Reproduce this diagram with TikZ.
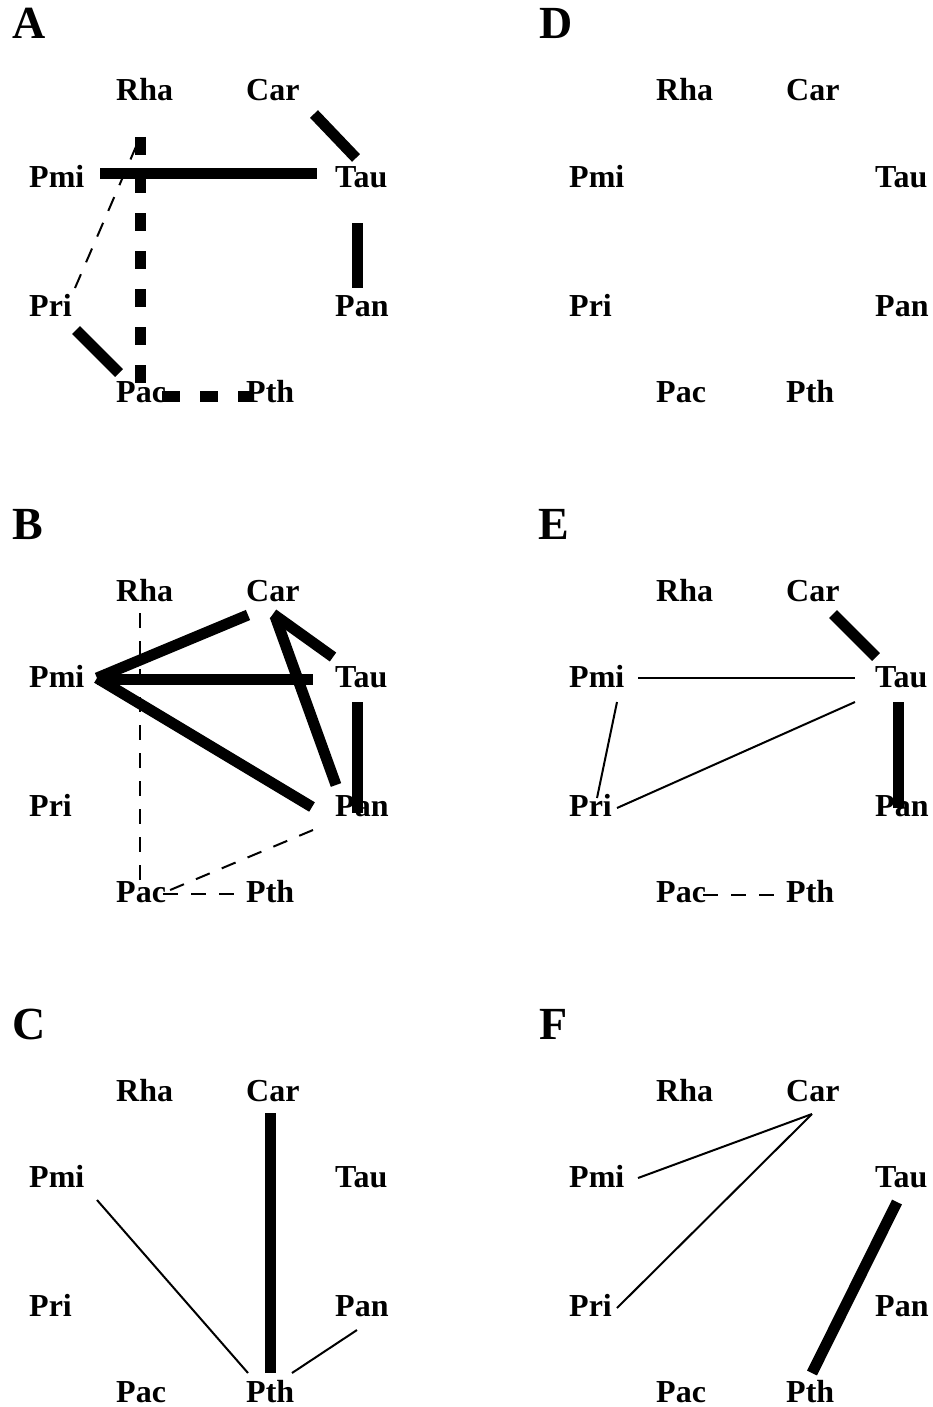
\documentclass[tikz,border=0pt]{standalone}
\usepackage{fontspec}
\setmainfont{Liberation Serif}
\usetikzlibrary{calc}
\tikzset{
  lbl/.style={anchor=base west, inner sep=0pt, font=\bfseries\fontsize{32}{38}\selectfont},
  plet/.style={anchor=base west, inner sep=0pt, font=\bfseries\fontsize{46}{52}\selectfont},
  thk/.style={line width=11pt},
  thn/.style={line width=2pt},
  thkdash/.style={line width=11pt, dash pattern=on 18pt off 20pt},
  thndash/.style={line width=2pt, dash pattern=on 15pt off 13pt},
}
\newcommand\panelnodes[1]{%
  \node[lbl] (#1-Rha) at (116,101) {Rha};
  \node[lbl] (#1-Car) at (246,101) {Car};
  \node[lbl] (#1-Pmi) at (29,187) {Pmi};
  \node[lbl] (#1-Tau) at (335,187) {Tau};
  \node[lbl] (#1-Pri) at (29,316) {Pri};
  \node[lbl] (#1-Pan) at (335,316) {Pan};
  \node[lbl] (#1-Pac) at (116,402) {Pac};
  \node[lbl] (#1-Pth) at (246,402) {Pth};
}
\newcommand\cedge[5]{\draw[#1] ($(#2.base west)+(#3)$) -- ($(#4.base west)+(#5)$);}
\begin{document}
\begin{tikzpicture}[x=1pt,y=-1pt]
\useasboundingbox (0,0) rectangle (932,1407);
% panel letters
\node[plet] (LA) at (12,39) {A};
\node[plet] (LB) at (12,539) {B};
\node[plet] (LC) at (12,1039) {C};
\node[plet] (LD) at (539,39) {D};
\node[plet] (LE) at (538,539) {E};
\node[plet] (LF) at (539,1039) {F};
% panel A
\begin{scope}
  \panelnodes{A}
  \cedge{thk}{A-Car}{68,13}{A-Tau}{21,-29}
  \cedge{thk}{A-Pmi}{71,-13}{A-Tau}{-18,-13}
  \cedge{thk}{A-Tau}{22,36}{A-Pan}{22,-28}
  \cedge{thkdash}{A-Rha}{24,36}{A-Pac}{24,-19}
  \cedge{thk}{A-Pri}{47,14}{A-Pac}{3,-29}
  \cedge{thkdash}{A-Pac}{46,-6}{A-Pth}{4,-6}
  \cedge{thndash}{A-Pri}{46,-28}{A-Rha}{22,41}
\end{scope}
% panel B
\begin{scope}[shift={(0,500)}]
  \panelnodes{B}
  \cedge{thndash}{B-Rha}{24,12}{B-Pac}{24,-9}
  \cedge{thk}{B-Pmi}{68,-9}{B-Car}{2,14}
  \cedge{thk}{B-Pmi}{68,-8}{B-Tau}{-22,-8}
  \cedge{thk}{B-Pmi}{68,-9}{B-Pan}{-23,-9}
  \cedge{thk}{B-Car}{27,13}{B-Tau}{-2,-30}
  \cedge{thk}{B-Car}{29,15}{B-Pan}{1,-31}
  \cedge{thk}{B-Tau}{22,15}{B-Pan}{22,-3}
  \cedge{thndash}{B-Pan}{-22,14}{B-Pac}{47,-9}
  \cedge{thndash}{B-Pac}{47,-8}{B-Pth}{-6,-8}
\end{scope}
% panel C
\begin{scope}[shift={(0,1000)}]
  \panelnodes{C}
  \cedge{thk}{C-Car}{24,12}{C-Pth}{24,-29}
  \cedge{thn}{C-Pmi}{68,13}{C-Pth}{2,-29}
  \cedge{thn}{C-Pan}{22,14}{C-Pth}{46,-29}
\end{scope}
% panel D
\begin{scope}[shift={(540,0)}]
  \panelnodes{D}
\end{scope}
% panel E
\begin{scope}[shift={(540,500)}]
  \panelnodes{E}
  \cedge{thk}{E-Car}{47,13}{E-Tau}{1,-30}
  \cedge{thn}{E-Pmi}{69,-9}{E-Tau}{-20,-9}
  \cedge{thn}{E-Pmi}{48,15}{E-Pri}{28,-18}
  \cedge{thn}{E-Pri}{48,-8}{E-Tau}{-20,15}
  \cedge{thk}{E-Tau}{23,15}{E-Pan}{23,-8}
  \cedge{thndash}{E-Pac}{47,-7}{E-Pth}{-6,-7}
\end{scope}
% panel F
\begin{scope}[shift={(540,1000)}]
  \panelnodes{F}
  \cedge{thn}{F-Pmi}{69,-9}{F-Car}{26,13}
  \cedge{thn}{F-Pri}{48,-8}{F-Car}{26,13}
  \cedge{thk}{F-Tau}{22,15}{F-Pth}{26,-29}
\end{scope}
\end{tikzpicture}
\end{document}
